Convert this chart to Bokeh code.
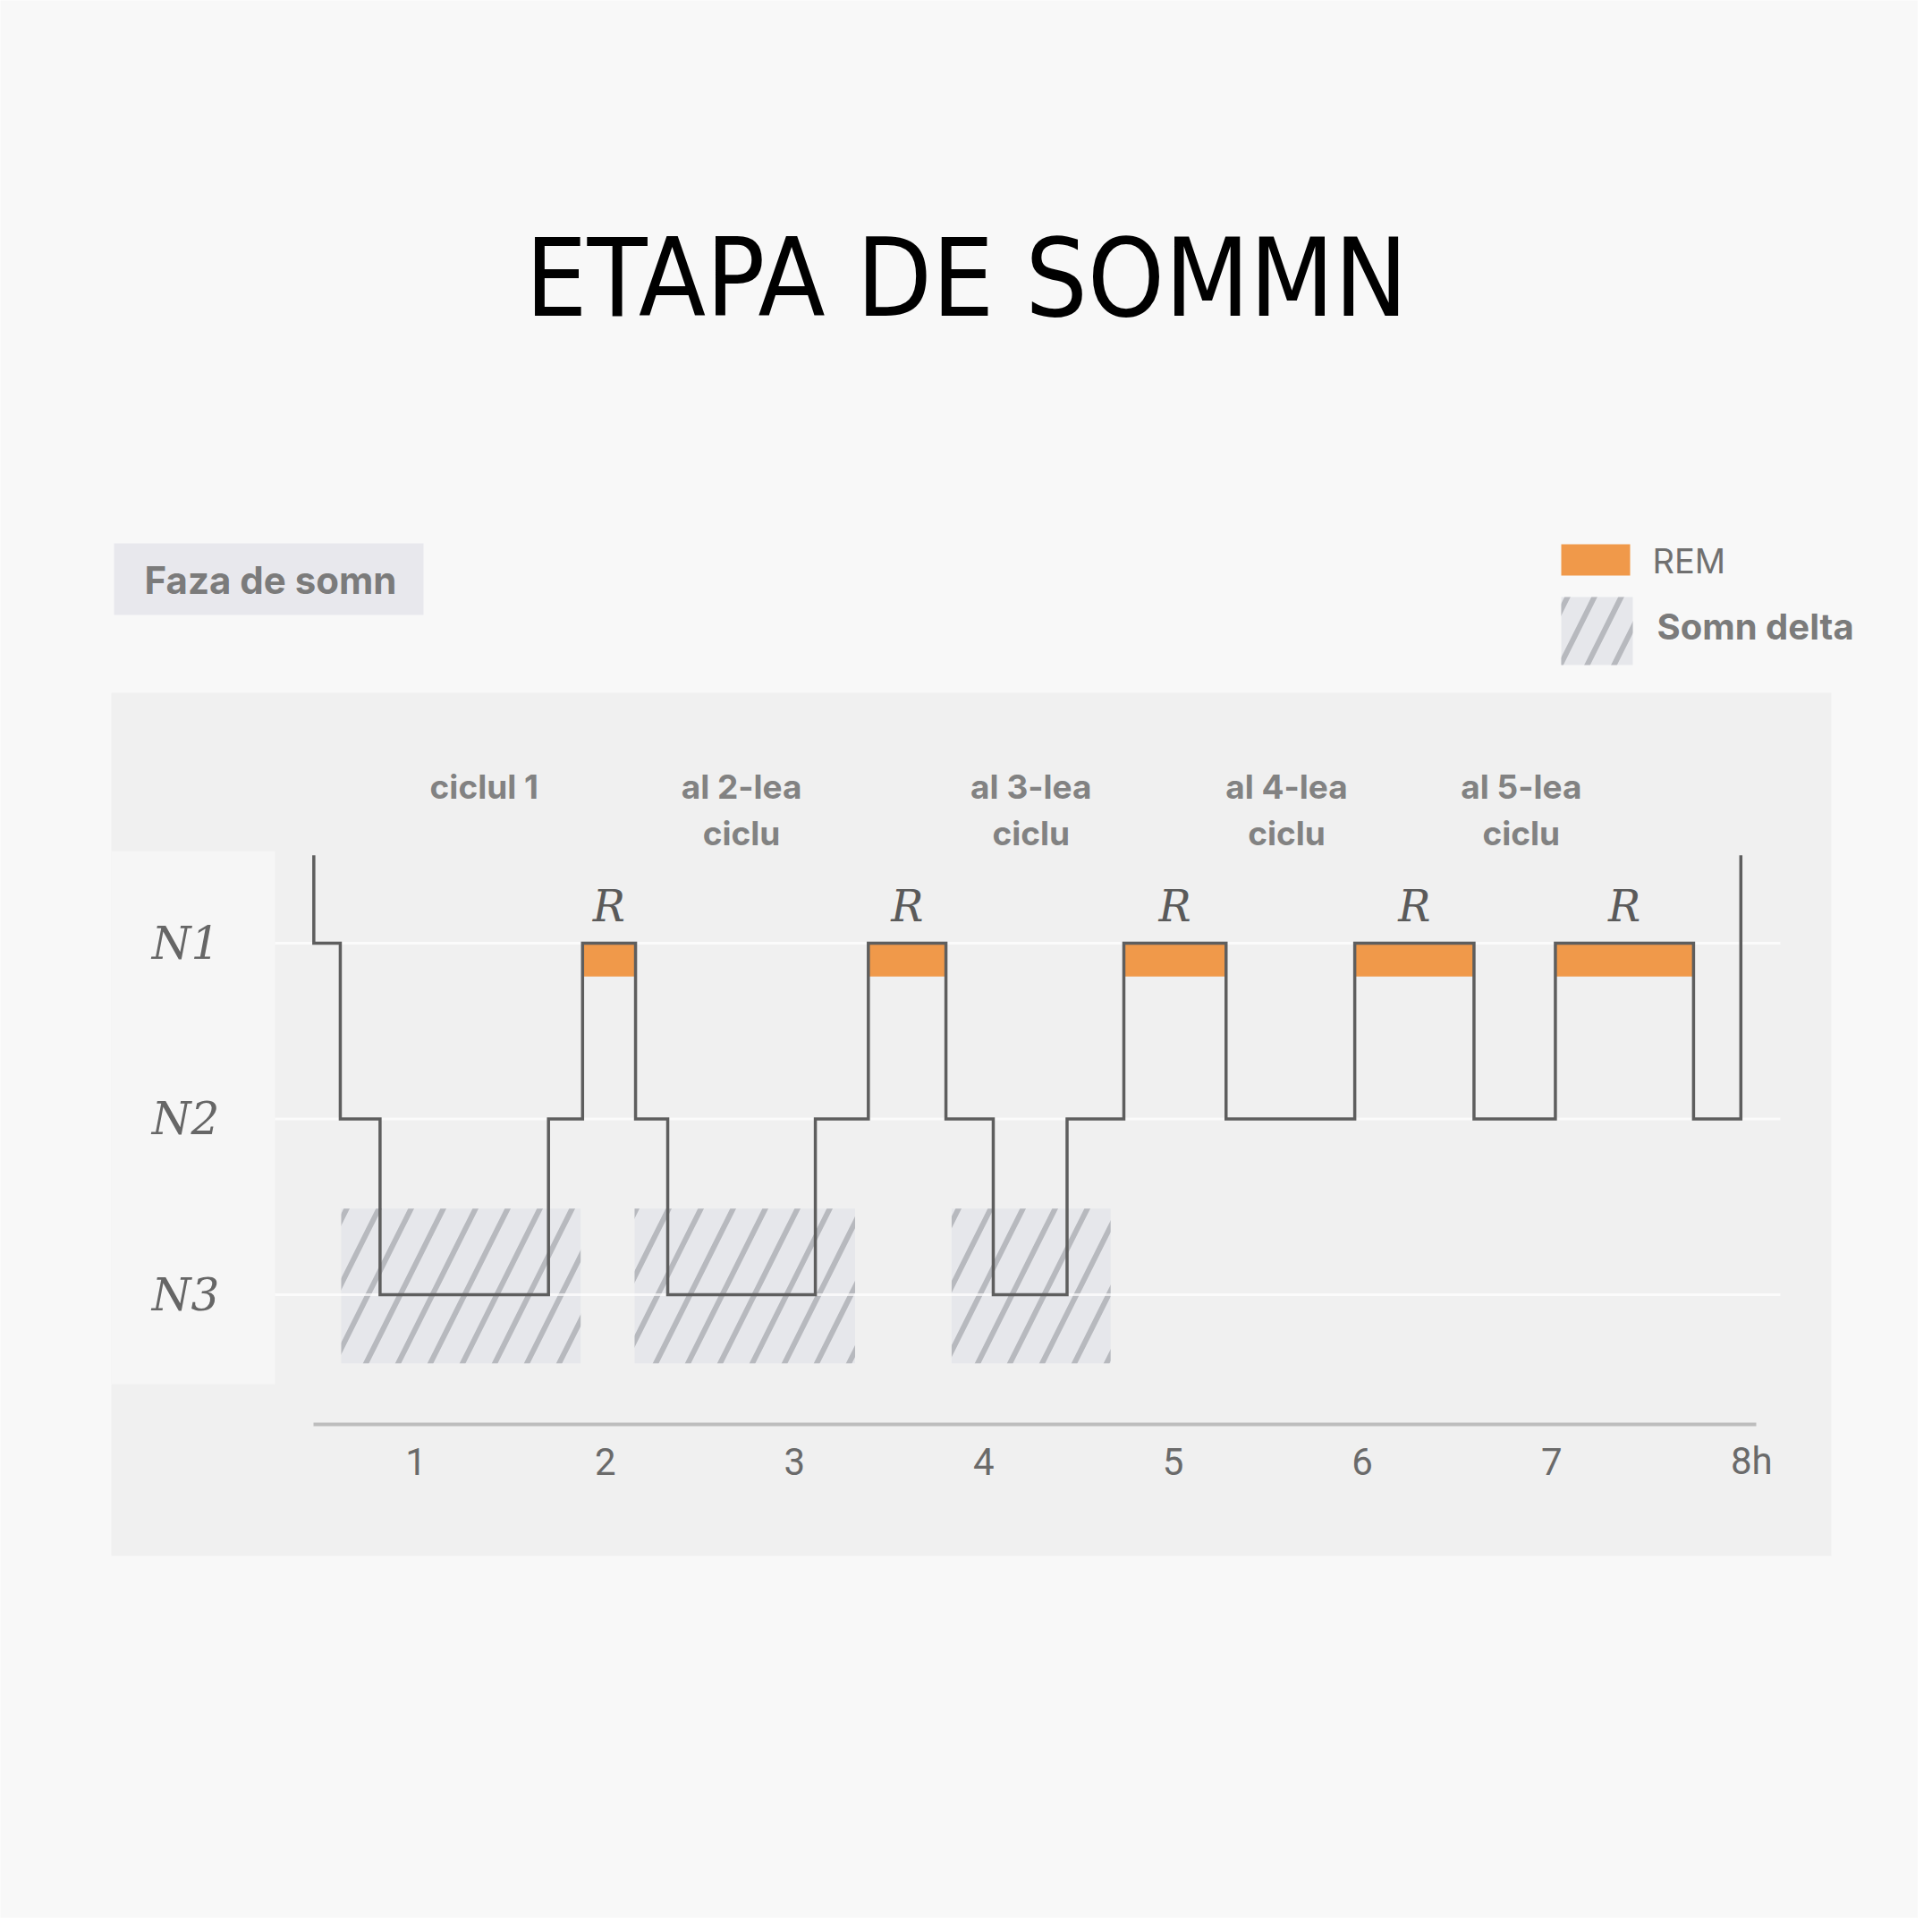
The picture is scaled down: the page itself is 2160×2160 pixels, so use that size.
from bokeh.plotting import figure
from bokeh.models import Range1d
from bokeh.core.properties import value
from bokeh.embed import file_html
from bokeh.resources import INLINE

# ---------------- data ----------------
title_text = "ETAPA DE SOMMN"
panel_label = "Faza de somn"
legend_rem = "REM"
legend_delta = "Somn delta"

stage_names = ["N1", "N2", "N3"]
stage_levels = [3, 2, 1]
wake_level = 3.5

# hypnogram: hours where the stage changes, and the stage held between them
change_hours = [0.46, 0.60, 0.81, 1.70, 1.88, 2.16, 2.33, 3.11, 3.39, 3.80,
                4.05, 4.44, 4.74, 5.28, 5.96, 6.59, 7.02, 7.75, 8.00]
stages = ["N1", "N2", "N3", "N2", "R", "N2", "N3", "N2", "R", "N2",
          "N3", "N2", "R", "N2", "R", "N2", "R", "N2"]

# delta (slow-wave) sleep periods
delta_start = [0.605, 2.155, 3.83]
delta_end = [1.87, 3.32, 4.67]

# cycle labels
cycle_centers = [1.36, 2.72, 4.25, 5.60, 6.84]
cycle_line1 = ["ciclul 1", "al 2-lea", "al 3-lea", "al 4-lea", "al 5-lea"]
cycle_line2 = ["", "ciclu", "ciclu", "ciclu", "ciclu"]

# hour axis
hour_ticks = [1, 2, 3, 4, 5, 6, 7, 8]
hour_labels = ["1", "2", "3", "4", "5", "6", "7", "8h"]

# ---------------- layout helpers (page pixel -> data) ----------------
X0, XS = 253.0, 211.6
Y0, YS = 1447.0, 196.5


def hx(px):
    return (px - X0) / XS


def vy(py):
    return 1 + (Y0 - py) / YS


level_of = {"N1": 3, "R": 3, "N2": 2, "N3": 1}
BG = "#f8f8f8"

W = H = 2144
p = figure(width=W, height=H, output_backend="svg", toolbar_location=None,
           x_range=Range1d(hx(0), hx(W)), y_range=Range1d(vy(H), vy(0)),
           x_axis_type=None, y_axis_type=None, min_border=0,
           background_fill_color=BG, border_fill_color=BG,
           outline_line_color=None)
p.grid.visible = False

# chart panel backgrounds
p.quad(left=[hx(124)], right=[hx(2047)], top=[vy(774)], bottom=[vy(1739)],
       fill_color="#f0f0f0", line_color=None)
p.quad(left=[hx(124)], right=[hx(307)], top=[vy(951)], bottom=[vy(1547)],
       fill_color="#f6f6f6", line_color=None)

# delta sleep hatched areas
p.quad(left=delta_start, right=delta_end, top=[1.49] * len(delta_start),
       bottom=[0.61] * len(delta_start),
       fill_color="#e6e7eb", line_color=None,
       hatch_pattern="/", hatch_color="#b7b9be", hatch_weight=6, hatch_scale=72)

# faint stage gridlines
for lv in stage_levels:
    p.line([hx(307), hx(1990)], [lv, lv], line_color="#ffffff", line_width=3, line_alpha=0.7)

# REM blocks
rem_l, rem_r = [], []
for i, s in enumerate(stages):
    if s == "R":
        rem_l.append(change_hours[i])
        rem_r.append(change_hours[i + 1])
p.quad(left=rem_l, right=rem_r, top=[3] * len(rem_l), bottom=[2.81] * len(rem_l),
       fill_color="#f0994a", line_color=None)

# hypnogram line
xs = [change_hours[0]]
ys = [wake_level]
for i, s in enumerate(stages):
    lv = level_of[s]
    xs += [change_hours[i], change_hours[i + 1]]
    ys += [lv, lv]
xs.append(change_hours[-1])
ys.append(wake_level)
p.line(xs, ys, line_color="#5e5e5e", line_width=3.5, line_join="miter")

# R labels
rem_c = [(a + b) / 2 for a, b in zip(rem_l, rem_r)]
p.text(x=rem_c, y=[vy(1012)] * len(rem_c), text=["R"] * len(rem_c),
       text_font=value("DejaVu Serif"), text_font_style="italic", text_font_size="48px",
       text_color="#5a5a5a", text_align="center", text_baseline="middle")

# stage labels
p.text(x=[hx(207)] * 3, y=stage_levels, text=stage_names,
       text_font=value("DejaVu Serif"), text_font_style="italic", text_font_size="50px",
       text_color="#666666", text_align="center", text_baseline="middle")

# cycle labels
p.text(x=cycle_centers, y=[vy(879)] * 5, text=cycle_line1,
       text_font=value("Inter"), text_font_style="bold", text_font_size="37px",
       text_color="#828282", text_align="center", text_baseline="middle")
p.text(x=cycle_centers, y=[vy(931)] * 5, text=cycle_line2,
       text_font=value("Inter"), text_font_style="bold", text_font_size="37px",
       text_color="#828282", text_align="center", text_baseline="middle")

# hour axis
p.line([hx(350), hx(1963)], [vy(1592), vy(1592)], line_color="#bdbdbd", line_width=4)
p.text(x=hour_ticks, y=[vy(1633)] * len(hour_ticks), text=hour_labels,
       x_offset=[0] * 7 + [12],
       text_font=value("Roboto"), text_font_size="42px",
       text_color="#6a6a6a", text_align="center", text_baseline="middle")

# title
p.text(x=[hx(1080)], y=[vy(310)], text=[title_text],
       text_font=value("DejaVu Sans Condensed, Liberation Sans Narrow, sans-serif"),
       text_font_size="122px",
       text_color="#000000", text_align="center", text_baseline="middle")

# "Faza de somn" tag
p.quad(left=[hx(127)], right=[hx(473)], top=[vy(607)], bottom=[vy(687)],
       fill_color="#e8e8ed", line_color=None)
p.text(x=[hx(302)], y=[vy(648)], text=[panel_label],
       text_font=value("Inter"), text_font_style="bold", text_font_size="42px",
       text_color="#7b7b7b", text_align="center", text_baseline="middle")

# legend
p.quad(left=[hx(1745)], right=[hx(1822)], top=[vy(608)], bottom=[vy(643)],
       fill_color="#f0994a", line_color=None)
p.quad(left=[hx(1745)], right=[hx(1825)], top=[vy(667)], bottom=[vy(743)],
       fill_color="#e6e7eb", line_color=None,
       hatch_pattern="/", hatch_color="#b7b9be", hatch_weight=6, hatch_scale=60)
p.text(x=[hx(1847)], y=[vy(626)], text=[legend_rem],
       text_font=value("Inter"), text_font_size="38px",
       text_color="#707070", text_align="left", text_baseline="middle")
p.text(x=[hx(1852)], y=[vy(700)], text=[legend_delta],
       text_font=value("Inter"), text_font_style="bold", text_font_size="40px",
       text_color="#7b7b7b", text_align="left", text_baseline="middle")

html = file_html(p, INLINE)
html = html.replace("<body>", '<body style="background:%s">' % BG, 1)
open("out.html", "w").write(html)
